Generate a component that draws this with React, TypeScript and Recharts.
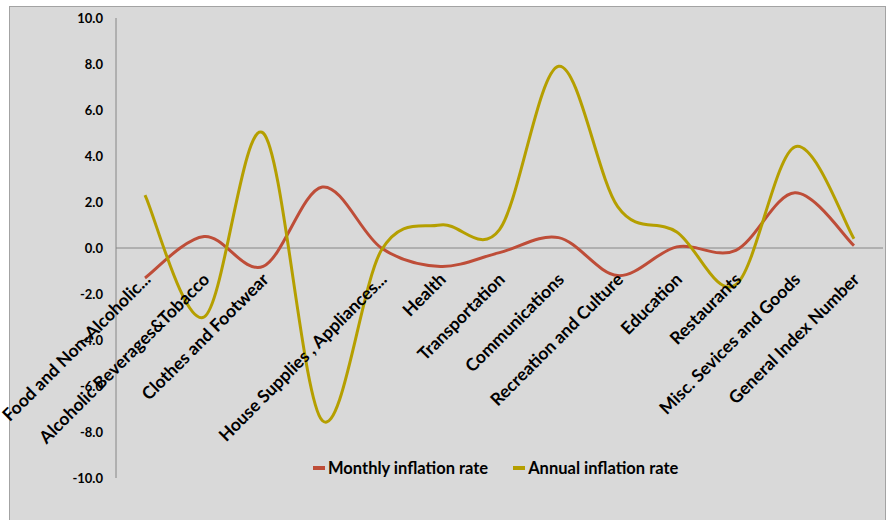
import { LineChart, Line, XAxis, YAxis, ReferenceLine } from "recharts";

const categories = [
  "Food and Non-Alcoholic...",
  "Alcoholic Beverages&Tobacco",
  "Clothes and Footwear",
  "",
  "House Supplies , Appliances...",
  "Health",
  "Transportation",
  "Communications",
  "Recreation and Culture",
  "Education",
  "Restaurants",
  "Misc. Sevices and Goods",
  "General Index Number",
];
const monthlyRate = [-1.3, 0.5, -0.8, 2.65, 0.0, -0.8, -0.2, 0.45, -1.2, 0.05, -0.1, 2.4, 0.1];
const annualRate = [2.3, -3.0, 5.0, -7.5, -0.1, 1.0, 0.8, 7.9, 1.8, 0.7, -1.6, 4.4, 0.4];
const yTicks = [-10, -8, -6, -4, -2, 0, 2, 4, 6, 8, 10];
const seriesNames = ["Monthly inflation rate", "Annual inflation rate"];
const colors = ["#be4d38", "#b59f00"];

const data = categories.map((c, i) => ({
  name: c,
  monthly: monthlyRate[i],
  annual: annualRate[i],
}));

const FONT = "Lato, 'Open Sans', sans-serif";
const PLOT_TOP = 11;
const PLOT_H = 460;
const ZERO_Y = PLOT_TOP + PLOT_H / 2;

// excel-like smoothing (catmull-rom as bezier)
function excelSmooth(context: any) {
  let pts: number[][] = [];
  return {
    areaStart() {},
    areaEnd() {},
    lineStart() {
      pts = [];
    },
    point(x: number, y: number) {
      pts.push([+x, +y]);
    },
    lineEnd() {
      if (!pts.length) return;
      context.moveTo(pts[0][0], pts[0][1]);
      for (let i = 0; i < pts.length - 1; i++) {
        const p0 = pts[i - 1] || pts[i];
        const p1 = pts[i];
        const p2 = pts[i + 1];
        const p3 = pts[i + 2] || p2;
        context.bezierCurveTo(
          p1[0] + (p2[0] - p0[0]) / 6,
          p1[1] + (p2[1] - p0[1]) / 6,
          p2[0] - (p3[0] - p1[0]) / 6,
          p2[1] - (p3[1] - p1[1]) / 6,
          p2[0],
          p2[1]
        );
      }
    },
  };
}

const CategoryTick = ({ x, payload }: any) => {
  const tx = x + 2;
  const ty = ZERO_Y + 28;
  return (
    <text
      x={tx}
      y={ty}
      transform={`rotate(-45, ${tx}, ${ty})`}
      textAnchor="end"
      dominantBaseline="central"
      fontFamily={FONT}
      fontWeight="bold"
      fontSize={17.5}
      fill="#000"
    >
      {payload.value}
    </text>
  );
};

export default function App() {
  return (
    <div
      style={{
        position: "absolute",
        left: 9,
        top: 6,
        width: 875,
        height: 520,
        background: "#d9d9d9",
        border: "1px solid #a3a3a3",
      }}
    >
      <style>{`.recharts-surface { overflow: visible; }`}</style>
      <LineChart
        width={875}
        height={500}
        data={data}
        margin={{ top: PLOT_TOP, right: 2, bottom: 500 - PLOT_TOP - PLOT_H - 1, left: 0 }}
      >
        <XAxis
          dataKey="name"
          height={1}
          axisLine={false}
          tickLine={false}
          interval={0}
          padding={{ left: 29, right: 29 }}
          tick={<CategoryTick />}
        />
        <YAxis
          width={106}
          domain={[-10, 10]}
          ticks={yTicks}
          tickFormatter={(v: number) => v.toFixed(1)}
          stroke="#868686"
          tickLine={false}
          tickMargin={7}
          tick={{ fill: "#000", fontSize: 13, fontWeight: "bold", fontFamily: FONT }}
        />
        <ReferenceLine y={0} stroke="#868686" strokeWidth={1} />
        <Line
          dataKey="monthly"
          name={seriesNames[0]}
          type={excelSmooth as any}
          stroke={colors[0]}
          strokeWidth={3}
          dot={false}
          isAnimationActive={false}
        />
        <Line
          dataKey="annual"
          name={seriesNames[1]}
          type={excelSmooth as any}
          stroke={colors[1]}
          strokeWidth={3}
          dot={false}
          isAnimationActive={false}
        />
      </LineChart>
      {/* legend sits inside the plot, like the excel original */}
      <div
        style={{
          position: "absolute",
          left: 303,
          top: 451,
          display: "flex",
          alignItems: "center",
          fontFamily: FONT,
          fontSize: 16.5,
          fontWeight: "bold",
          color: "#000",
        }}
      >
        {seriesNames.map((n, i) => (
          <div key={n} style={{ display: "flex", alignItems: "center", marginRight: 25 }}>
            <span
              style={{ display: "inline-block", width: 12, height: 4, background: colors[i], marginRight: 3 }}
            />
            {n}
          </div>
        ))}
      </div>
    </div>
  );
}
